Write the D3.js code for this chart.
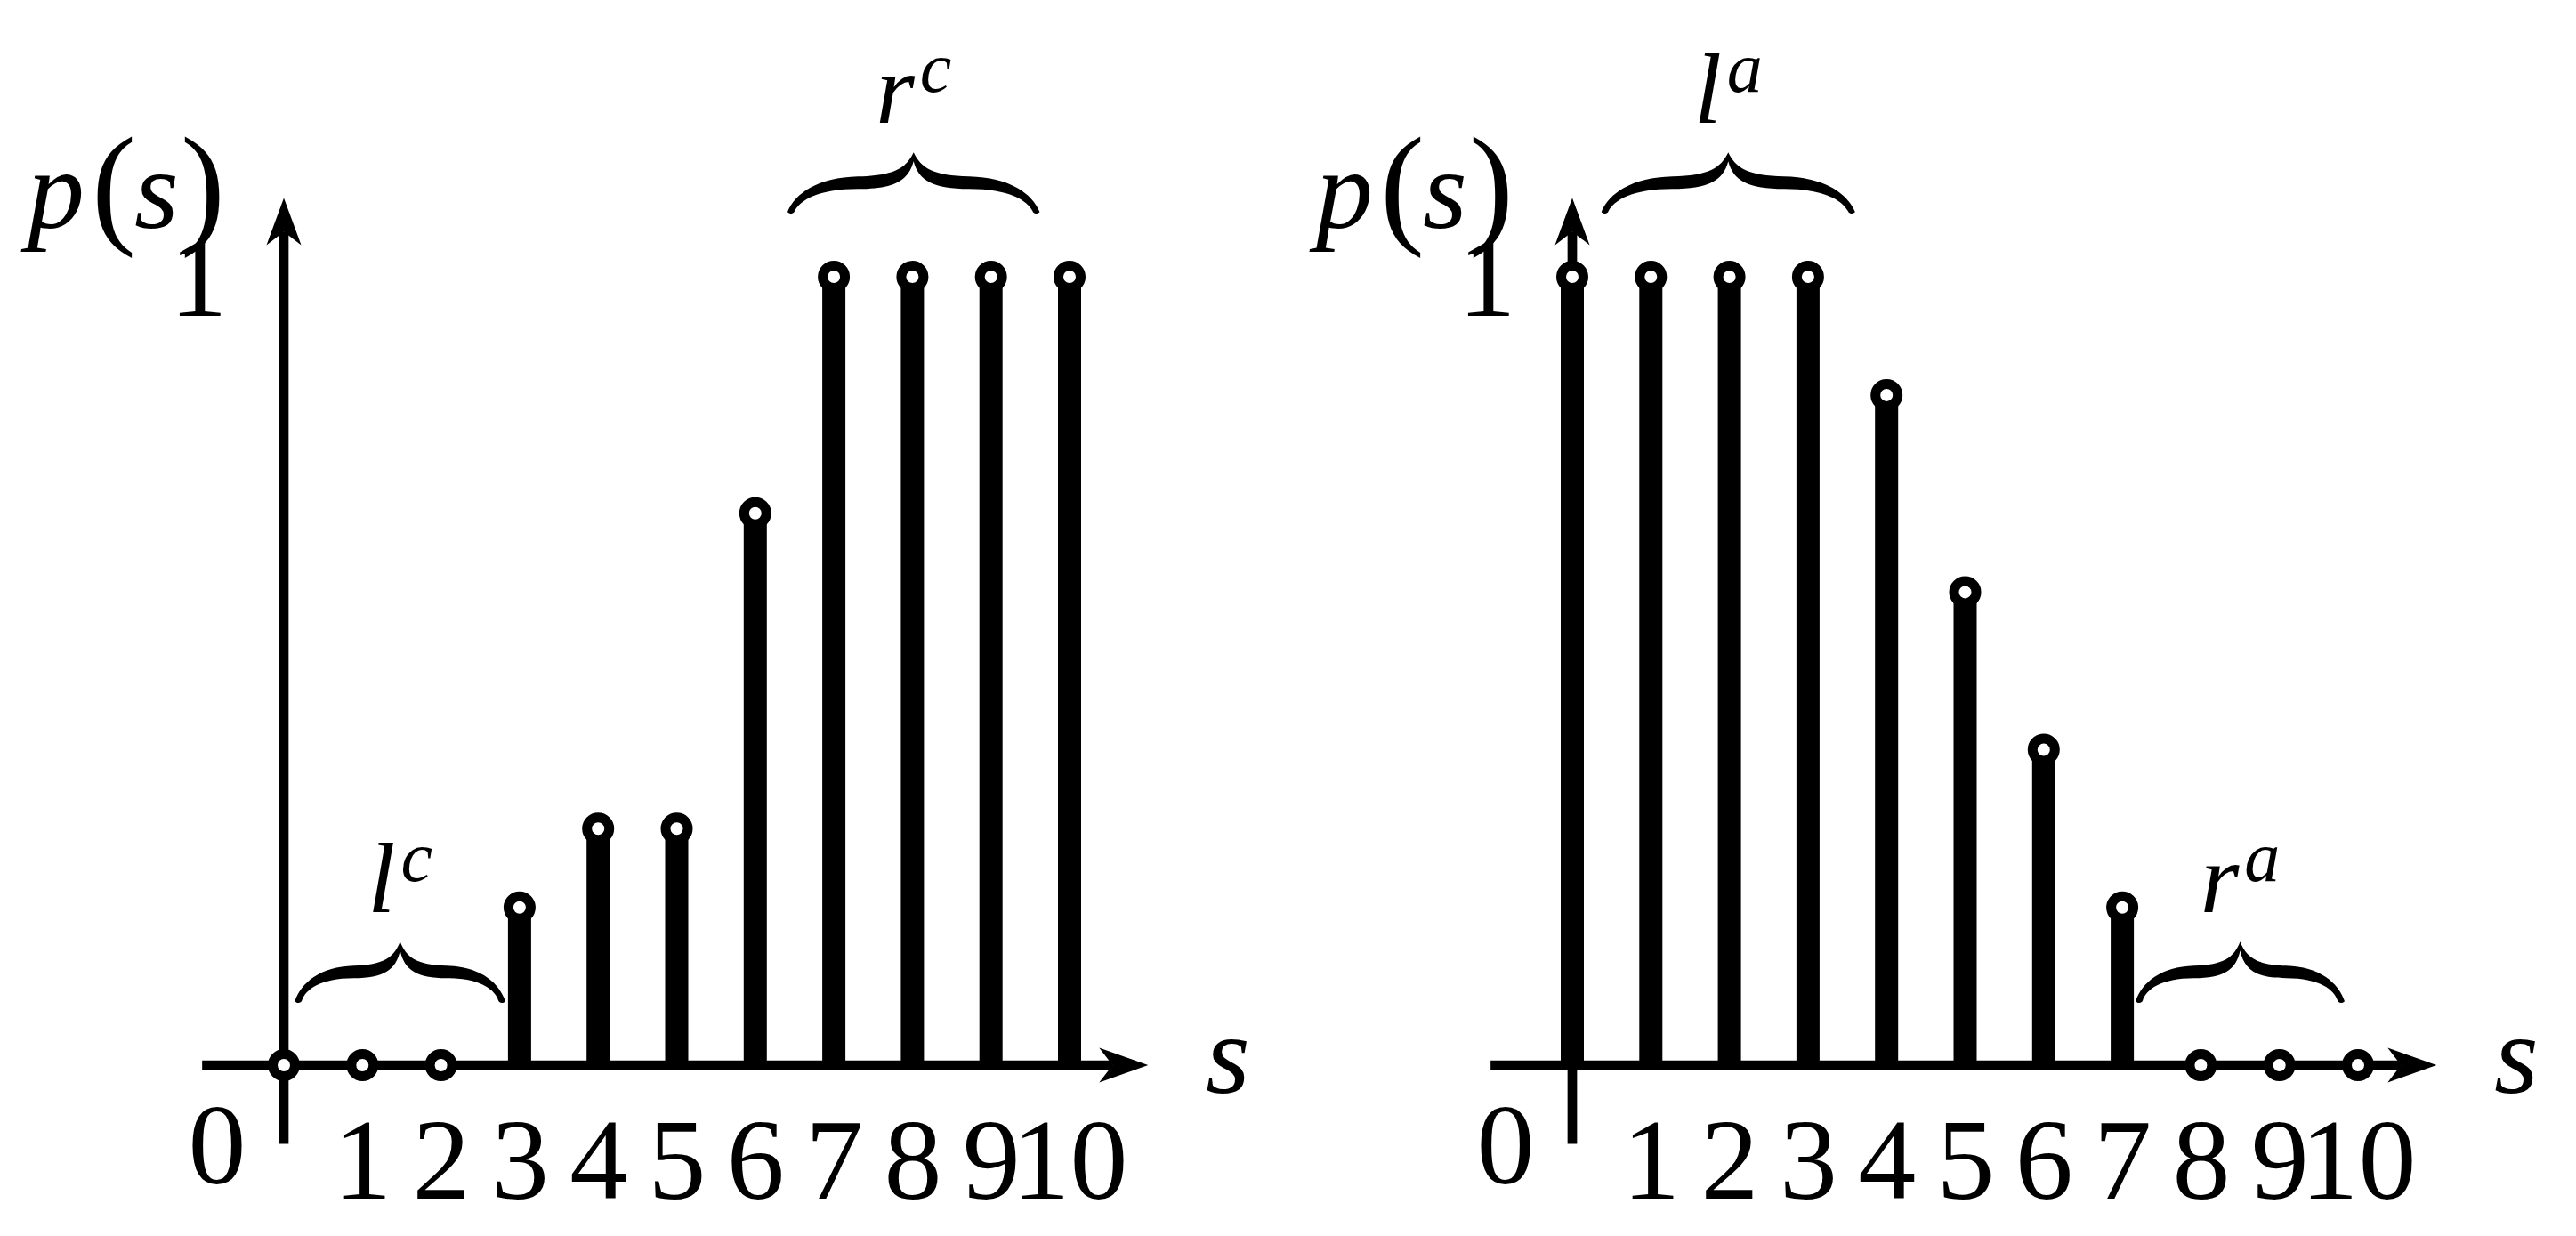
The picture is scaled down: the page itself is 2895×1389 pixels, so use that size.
<!DOCTYPE html>
<html><head><meta charset="utf-8">
<script src="https://cdn.jsdelivr.net/npm/d3@7"></script>
<style>html,body{margin:0;padding:0;background:#fff;overflow:hidden}</style>
</head><body>
<svg id="chart" width="2895" height="1389"></svg>
<script>
// ---- data ----
const categories = [0,1,2,3,4,5,6,7,8,9,10];
const tickValues = [1,2,3,4,5,6,7,8,9,10];
const tickLabels = ["1","2","3","4","5","6","7","8","9","10"];
const valuesC = [0,0,0,0.2,0.3,0.3,0.7,1,1,1,1];
const valuesA = [1,1,1,1,0.85,0.6,0.4,0.2,0,0,0];
const braceSpansC = [[0.14, 2.82], [6.41, 9.62]];
const braceLevelsC = [0.081, 1.082];
const braceLabelsC = [["l","c"], ["r","c"]];
const braceSpansA = [[0.37, 3.6], [7.17, 9.83]];
const braceLevelsA = [1.082, 0.081];
const braceLabelsA = [["l","a"], ["r","a"]];
const xAxisExtent = [-1.04, 11.0];
const yAxisExtent = [-0.10, 1.10];

const svg = d3.select("#chart");
const FONT = "'Liberation Serif', 'Times New Roman', serif";

function bracePath(xa, xb, yEnd) {
  const W = xb - xa, H = 67, t = yEnd - H;
  const X = f => xa + f * W, Y = d => t + d;
  return `M${X(0)},${Y(H)}`
   + `C${X(.03)},${Y(46)} ${X(.12)},${Y(28)} ${X(.28)},${Y(27)}`
   + `C${X(.42)},${Y(26)} ${X(.47)},${Y(18)} ${X(.5)},${Y(0)}`
   + `C${X(.53)},${Y(18)} ${X(.58)},${Y(26)} ${X(.72)},${Y(27)}`
   + `C${X(.88)},${Y(28)} ${X(.97)},${Y(46)} ${X(1)},${Y(H)}`
   + `C${X(1)-3},${Y(H+3)} ${X(1)-7},${Y(H+2)} ${X(1)-8},${Y(H-1)}`
   + `C${X(.95)},${Y(54)} ${X(.88)},${Y(41)} ${X(.72)},${Y(41)}`
   + `C${X(.58)},${Y(41)} ${X(.52)},${Y(32)} ${X(.5)},${Y(10)}`
   + `C${X(.48)},${Y(32)} ${X(.42)},${Y(41)} ${X(.28)},${Y(41)}`
   + `C${X(.12)},${Y(41)} ${X(.05)},${Y(54)} ${X(0)+8},${Y(H-1)}`
   + `C${X(0)+7},${Y(H+2)} ${X(0)+3},${Y(H+3)} ${X(0)},${Y(H)}Z`;
}

function panel(x0, values, spans, levels, labels) {
  const x = d3.scaleLinear().domain([0, 10]).range([x0, x0 + 883]);
  const y = d3.scaleLinear().domain([0, 1]).range([1197, 311]);
  const g = svg.append("g");

  // x axis line + arrow
  const ax0 = x(xAxisExtent[0]), ax1 = x(xAxisExtent[1]), ay = y(0);
  g.append("line").attr("x1", ax0).attr("x2", ax1 - 40).attr("y1", ay).attr("y2", ay)
    .attr("stroke", "#000").attr("stroke-width", 10.7);
  g.append("path")
    .attr("d", `M${ax1},${ay} L${ax1-55},${ay-19.5} L${ax1-40},${ay} L${ax1-55},${ay+19.5} Z`)
    .attr("fill", "#000");
  // y axis line + arrow
  const yx = x(0), yb = y(yAxisExtent[0]), yt = y(yAxisExtent[1]);
  g.append("line").attr("x1", yx).attr("x2", yx).attr("y1", yb).attr("y2", yt + 38)
    .attr("stroke", "#000").attr("stroke-width", 10.7);
  g.append("path")
    .attr("d", `M${yx},${yt} L${yx-19.5},${yt+53} L${yx},${yt+38} L${yx+19.5},${yt+53} Z`)
    .attr("fill", "#000");

  // tick labels via d3 axis
  const axis = d3.axisBottom(x).tickValues(tickValues)
    .tickFormat((d, i) => tickLabels[i]).tickSize(0);
  const axG = g.append("g").attr("transform", `translate(0,${ay})`).call(axis);
  axG.select(".domain").remove();
  axG.selectAll("text").attr("y", 150).attr("dy", 0)
    .attr("font-family", FONT).attr("font-size", 130).attr("fill", "#000");

  // "0" and "1" labels
  g.append("text").attr("x", x(0) - 75).attr("y", ay + 133).attr("text-anchor", "middle")
    .attr("font-family", FONT).attr("font-size", 130).text("0");
  g.append("text").attr("x", x(0) - 96).attr("y", y(1) + 44).attr("text-anchor", "middle")
    .attr("font-family", FONT).attr("font-size", 130).text("1");

  // axis labels
  g.append("text").attr("x", x(10) + 178).attr("y", ay + 31).attr("text-anchor", "middle")
    .attr("font-family", FONT).attr("font-style", "italic").attr("font-size", 128).text("s");
  const py = 256;
  g.append("text").attr("x", x(0) - 256).attr("y", py).attr("text-anchor", "middle")
    .attr("font-family", FONT).attr("font-style", "italic").attr("font-size", 128).text("p");
  g.append("text").attr("x", x(0) - 191).attr("y", py + 2).attr("text-anchor", "middle")
    .attr("font-family", FONT).attr("font-size", 150).text("(");
  g.append("text").attr("x", x(0) - 143).attr("y", py).attr("text-anchor", "middle")
    .attr("font-family", FONT).attr("font-style", "italic").attr("font-size", 128).text("s");
  g.append("text").attr("x", x(0) - 91).attr("y", py + 2).attr("text-anchor", "middle")
    .attr("font-family", FONT).attr("font-size", 150).text(")");

  // stems
  const data = categories.map((c, i) => ({s: c, v: values[i]}));
  g.selectAll(".stem").data(data.filter(d => d.v > 0)).join("line")
    .attr("class", "stem")
    .attr("x1", d => x(d.s)).attr("x2", d => x(d.s))
    .attr("y1", y(0)).attr("y2", d => y(d.v))
    .attr("stroke", "#000").attr("stroke-width", 26);
  g.selectAll(".dot").data(data).join("circle")
    .attr("class", "dot")
    .attr("cx", d => x(d.s)).attr("cy", d => y(d.v)).attr("r", 12.5)
    .attr("fill", "#fff").attr("stroke", "#000").attr("stroke-width", 11);

  // braces
  spans.forEach((sp, i) => {
    const xa = x(sp[0]), xb = x(sp[1]), yEnd = y(levels[i]);
    g.append("path").attr("d", bracePath(xa, xb, yEnd)).attr("fill", "#000");
    const t = g.append("text").attr("x", (xa + xb) / 2).attr("y", yEnd - 67 - 33)
      .attr("text-anchor", "middle").attr("font-family", FONT)
      .attr("font-style", "italic").attr("font-size", 112);
    t.append("tspan").text(labels[i][0]);
    t.append("tspan").attr("font-size", 80).attr("dy", -35).attr("dx", 6).text(labels[i][1]);
  });
}

panel(319, valuesC, braceSpansC, braceLevelsC, braceLabelsC);
panel(1767, valuesA, braceSpansA, braceLevelsA, braceLabelsA);
</script>
</body></html>
